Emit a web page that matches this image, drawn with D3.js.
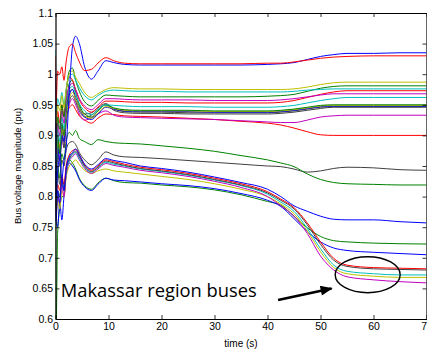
<!DOCTYPE html>
<html>
<head>
<meta charset="utf-8">
<script src="https://cdn.jsdelivr.net/npm/d3@7"></script>
<style>
  body { margin: 0; background: #fff; }
  svg { display: block; }
  text { font-family: "Liberation Sans", Arial, sans-serif; }
</style>
</head>
<body>
<div id="canvas"></div>
<script>
// sample times (s)
const time = [0, 0.1, 0.4, 0.8, 1.2, 1.6, 2,
  2.6, 3.2, 3.8, 4.5, 5.5, 6.8, 8, 9.5, 11,
  13, 16, 20, 25, 30, 35, 40,
  42.5, 45, 47.5, 50, 52.5, 55, 60, 65, 70];

const xTicks = [0, 10, 20, 30, 40, 50, 60, 70];
const yTicks = [0.6, 0.65, 0.7, 0.75, 0.8, 0.85, 0.9, 0.95, 1, 1.05, 1.1];

// bus voltages (pu)
const blue1 = [1.00, 0.80, 0.84, 0.86, 0.83, 0.86, 0.88,
  0.97, 1.045, 1.062, 1.05, 1.012, 0.992, 1.005, 1.022, 1.019,
  1.016, 1.015, 1.015, 1.015, 1.015, 1.015, 1.016,
  1.017, 1.019, 1.024, 1.029, 1.032, 1.034, 1.034, 1.035, 1.035];
const red1 = [1.03, 0.95, 1.005, 1.0, 1.012, 0.99, 1.02,
  1.045, 1.049, 1.035, 1.02, 1.006, 1.008, 1.018, 1.027, 1.022,
  1.018, 1.017, 1.017, 1.017, 1.017, 1.017, 1.018,
  1.018, 1.02, 1.023, 1.026, 1.028, 1.029, 1.03, 1.03, 1.03];
const oliveA = [0.97, 0.92, 0.95, 0.94, 0.965, 0.945, 0.975,
  1.0, 1.005, 0.995, 0.985, 0.97, 0.962, 0.968, 0.975, 0.978,
  0.977, 0.976, 0.976, 0.975, 0.975, 0.975, 0.975,
  0.975, 0.976, 0.979, 0.983, 0.986, 0.987, 0.987, 0.987, 0.987];
const cyanA = [1.04, 0.93, 0.96, 0.95, 0.97, 0.95, 0.975,
  0.995, 1.0, 0.99, 0.978, 0.965, 0.958, 0.965, 0.972, 0.974,
  0.973, 0.972, 0.972, 0.971, 0.971, 0.971, 0.971,
  0.971, 0.972, 0.974, 0.975, 0.976, 0.976, 0.976, 0.976, 0.976];
const greenA = [0.96, 0.88, 0.93, 0.91, 0.95, 0.93, 0.97,
  1.005, 1.01, 0.99, 0.972, 0.955, 0.948, 0.957, 0.966, 0.965,
  0.964, 0.963, 0.963, 0.963, 0.963, 0.963, 0.964,
  0.965, 0.967, 0.972, 0.977, 0.98, 0.981, 0.981, 0.981, 0.981];
const magentaA = [0.95, 0.87, 0.92, 0.9, 0.94, 0.92, 0.955,
  0.98, 0.985, 0.975, 0.96, 0.948, 0.942, 0.95, 0.96, 0.96,
  0.959, 0.958, 0.958, 0.958, 0.957, 0.957, 0.957,
  0.958, 0.96, 0.963, 0.966, 0.968, 0.968, 0.968, 0.968, 0.968];
const redB = [0.99, 0.9, 0.94, 0.92, 0.95, 0.93, 0.97,
  0.995, 0.99, 0.975, 0.958, 0.945, 0.938, 0.946, 0.956, 0.956,
  0.955, 0.954, 0.954, 0.953, 0.953, 0.953, 0.953,
  0.954, 0.957, 0.962, 0.967, 0.971, 0.973, 0.973, 0.973, 0.973];
const cyanB = [0.96, 0.86, 0.91, 0.89, 0.93, 0.91, 0.95,
  0.975, 0.98, 0.968, 0.952, 0.94, 0.934, 0.942, 0.95, 0.949,
  0.948, 0.947, 0.947, 0.947, 0.946, 0.946, 0.946,
  0.947, 0.949, 0.953, 0.957, 0.96, 0.962, 0.962, 0.962, 0.962];
const greenB = [0.94, 0.84, 0.9, 0.87, 0.92, 0.9, 0.94,
  0.985, 0.99, 0.97, 0.95, 0.935, 0.93, 0.94, 0.95, 0.945,
  0.942, 0.941, 0.941, 0.941, 0.94, 0.94, 0.94,
  0.941, 0.943, 0.946, 0.949, 0.95, 0.95, 0.95, 0.95, 0.95];
const oliveB = [0.93, 0.85, 0.89, 0.88, 0.91, 0.9, 0.93,
  0.96, 0.97, 0.96, 0.945, 0.932, 0.928, 0.937, 0.947, 0.944,
  0.941, 0.94, 0.94, 0.94, 0.939, 0.939, 0.939,
  0.94, 0.942, 0.945, 0.948, 0.949, 0.949, 0.949, 0.949, 0.949];
const blueB = [0.95, 0.83, 0.88, 0.86, 0.9, 0.89, 0.93,
  0.965, 0.975, 0.962, 0.945, 0.93, 0.926, 0.935, 0.946, 0.943,
  0.94, 0.939, 0.939, 0.939, 0.938, 0.938, 0.938,
  0.939, 0.941, 0.944, 0.947, 0.948, 0.948, 0.948, 0.948, 0.948];
const blackA = [0.94, 0.84, 0.89, 0.87, 0.91, 0.89, 0.935,
  0.97, 0.975, 0.96, 0.945, 0.935, 0.937, 0.945, 0.952, 0.943,
  0.939, 0.938, 0.938, 0.937, 0.937, 0.937, 0.937,
  0.938, 0.94, 0.943, 0.946, 0.947, 0.947, 0.947, 0.947, 0.947];
const blackB = [0.92, 0.82, 0.87, 0.85, 0.9, 0.88, 0.92,
  0.955, 0.965, 0.955, 0.94, 0.93, 0.933, 0.942, 0.95, 0.941,
  0.937, 0.936, 0.936, 0.935, 0.935, 0.935, 0.935,
  0.936, 0.938, 0.941, 0.944, 0.946, 0.946, 0.946, 0.946, 0.946];
const magentaB = [0.93, 0.83, 0.88, 0.86, 0.9, 0.88, 0.92,
  0.95, 0.96, 0.95, 0.935, 0.925, 0.929, 0.935, 0.94, 0.933,
  0.93, 0.929, 0.928, 0.927, 0.926, 0.924, 0.922,
  0.921, 0.921, 0.925, 0.93, 0.932, 0.933, 0.933, 0.933, 0.933];
const redC = [0.95, 0.85, 0.9, 0.88, 0.92, 0.9, 0.93,
  0.945, 0.95, 0.942, 0.932, 0.925, 0.92, 0.928, 0.935, 0.934,
  0.932, 0.931, 0.93, 0.928, 0.926, 0.923, 0.92,
  0.917, 0.912, 0.906, 0.901, 0.9, 0.9, 0.9, 0.9, 0.9];
const greenC = [0.9, 0.8, 0.85, 0.83, 0.87, 0.86, 0.89,
  0.905, 0.9, 0.908, 0.895, 0.89, 0.885, 0.893, 0.89, 0.888,
  0.887, 0.886, 0.883, 0.879, 0.874, 0.867, 0.86,
  0.855, 0.849, 0.837, 0.828, 0.823, 0.821, 0.82, 0.819, 0.819];
const blackC = [0.88, 0.78, 0.84, 0.82, 0.86, 0.85, 0.875,
  0.888, 0.89, 0.885, 0.872, 0.86, 0.852, 0.86, 0.873, 0.868,
  0.865, 0.864, 0.862, 0.859, 0.856, 0.853, 0.85,
  0.849, 0.845, 0.84, 0.842, 0.846, 0.848, 0.847, 0.844, 0.843];
const blueD = [0.86, 0.76, 0.81, 0.79, 0.83, 0.81, 0.845,
  0.865, 0.872, 0.878, 0.868, 0.853, 0.845, 0.852, 0.862, 0.859,
  0.856, 0.85, 0.846, 0.84, 0.832, 0.823, 0.812,
  0.80, 0.785, 0.776, 0.768, 0.763, 0.762, 0.762, 0.759, 0.757];
const redD = [0.84, 0.79, 0.82, 0.81, 0.835, 0.82, 0.85,
  0.868, 0.875, 0.877, 0.868, 0.852, 0.843, 0.85, 0.86, 0.857,
  0.853, 0.848, 0.844, 0.838, 0.83, 0.821, 0.808,
  0.796, 0.782, 0.757, 0.726, 0.699, 0.688, 0.684, 0.683, 0.682];
const blackD = [0.85, 0.77, 0.81, 0.8, 0.83, 0.81, 0.845,
  0.862, 0.87, 0.874, 0.865, 0.85, 0.841, 0.848, 0.858, 0.855,
  0.851, 0.846, 0.842, 0.836, 0.828, 0.819, 0.806,
  0.794, 0.78, 0.754, 0.722, 0.696, 0.686, 0.682, 0.681, 0.68];
const cyanD = [0.85, 0.78, 0.81, 0.8, 0.83, 0.81, 0.84,
  0.86, 0.868, 0.872, 0.862, 0.848, 0.84, 0.847, 0.856, 0.853,
  0.85, 0.845, 0.841, 0.835, 0.827, 0.818, 0.804,
  0.791, 0.776, 0.748, 0.715, 0.688, 0.678, 0.674, 0.672, 0.672];
const magentaD = [0.84, 0.77, 0.8, 0.79, 0.82, 0.8, 0.835,
  0.858, 0.865, 0.87, 0.86, 0.846, 0.838, 0.845, 0.854, 0.851,
  0.848, 0.843, 0.839, 0.833, 0.825, 0.815, 0.80,
  0.785, 0.768, 0.74, 0.703, 0.68, 0.669, 0.664, 0.661, 0.659];
const oliveD = [0.83, 0.76, 0.8, 0.78, 0.81, 0.8, 0.83,
  0.85, 0.855, 0.86, 0.852, 0.843, 0.838, 0.842, 0.845, 0.842,
  0.84, 0.837, 0.833, 0.828, 0.821, 0.812, 0.80,
  0.788, 0.772, 0.744, 0.71, 0.684, 0.674, 0.67, 0.668, 0.668];
const greenD = [0.82, 0.58, 0.74, 0.78, 0.8, 0.8, 0.84,
  0.86, 0.855, 0.845, 0.83, 0.818, 0.812, 0.822, 0.83, 0.826,
  0.823, 0.822, 0.819, 0.816, 0.811, 0.803, 0.792,
  0.786, 0.768, 0.749, 0.735, 0.728, 0.726, 0.724, 0.723, 0.7225];
const blueE = [0.83, 0.76, 0.751, 0.79, 0.762, 0.8, 0.835,
  0.855, 0.85, 0.842, 0.828, 0.816, 0.81, 0.82, 0.83, 0.827,
  0.826, 0.824, 0.821, 0.818, 0.813, 0.805, 0.794,
  0.784, 0.764, 0.743, 0.726, 0.716, 0.712, 0.709, 0.707, 0.705];

// annotation anchors in data units
const noteText = "Makassar region buses";
const notePos = [1.0, 0.6364];
const arrowFrom = [42.0, 0.631];
const arrowTo = [52.1, 0.650];
const ringCenter = [58.9, 0.6724];
const ringRadius = [6.13, 0.0294];

// MATLAB line colours
const col = {
  b: "#0000ff", g: "#008000", r: "#ff0000", c: "#00bfbf",
  m: "#bf00bf", y: "#bfbf00", k: "#404040"
};

const series = [
  [greenD, col.g], [blueE, col.b], [oliveD, col.y], [magentaD, col.m],
  [cyanD, col.c], [blackD, col.k], [redD, col.r], [blueD, col.b],
  [blackC, col.k], [greenC, col.g], [redC, col.r], [magentaB, col.m],
  [blackB, col.k], [blackA, col.k], [blueB, col.b], [oliveB, col.y],
  [greenB, col.g], [cyanB, col.c], [redB, col.r], [magentaA, col.m],
  [greenA, col.g], [cyanA, col.c], [oliveA, col.y],
  [blue1, col.b], [red1, col.r]
];

const width = 427, height = 354;
const mLeft = 55.5, mRight = 426.5, mTop = 13, mBottom = 319;

const x = d3.scaleLinear().domain([0, 70]).range([mLeft, mRight]);
const y = d3.scaleLinear().domain([0.6, 1.1]).range([mBottom, mTop]);

const svg = d3.select('#canvas')
  .append('svg')
  .attr('width', width)
  .attr('height', height);

const defs = svg.append('defs');
defs.append('clipPath')
  .attr('id', 'plotClip')
  .append('rect')
  .attr('x', mLeft).attr('y', mTop)
  .attr('width', mRight - mLeft).attr('height', mBottom - mTop);

// lines
const line = d3.line()
  .x((d, i) => x(time[i]))
  .y(d => y(d))
  .curve(d3.curveMonotoneX);

svg.append('g')
  .attr('clip-path', 'url(#plotClip)')
  .selectAll('path')
  .data(series)
  .enter()
  .append('path')
  .attr('d', d => line(d[0]))
  .attr('fill', 'none')
  .attr('stroke', d => d[1])
  .attr('stroke-width', 1);

// axes, ticks inside the box like matlab
const fmt = d => String(+d.toFixed(2));

const axL = svg.append('g')
  .attr('transform', `translate(${mLeft},0)`)
  .call(d3.axisLeft(y).tickValues(yTicks).tickFormat(fmt)
    .tickSizeInner(-4).tickSizeOuter(0).tickPadding(2.5));
const axR = svg.append('g')
  .attr('transform', `translate(${mRight},0)`)
  .call(d3.axisRight(y).tickValues(yTicks).tickFormat('')
    .tickSizeInner(-4).tickSizeOuter(0));
const axB = svg.append('g')
  .attr('transform', `translate(0,${mBottom})`)
  .call(d3.axisBottom(x).tickValues(xTicks).tickFormat(d3.format('d'))
    .tickSizeInner(-4).tickSizeOuter(0).tickPadding(4));
const axT = svg.append('g')
  .attr('transform', `translate(0,${mTop})`)
  .call(d3.axisTop(x).tickValues(xTicks).tickFormat('')
    .tickSizeInner(-4).tickSizeOuter(0));

[axL, axR, axB, axT].forEach(a => {
  a.select('.domain').attr('stroke', '#000').attr('stroke-width', 1.2);
  a.selectAll('.tick line').attr('stroke', '#000').attr('stroke-width', 0.8);
  a.selectAll('text')
    .attr('fill', '#000')
    .style('font-family', '"Liberation Sans", Arial, sans-serif')
    .style('font-size', '10.5px');
});

// axis labels
svg.append('text')
  .attr('x', (mLeft + mRight) / 2)
  .attr('y', 347)
  .attr('text-anchor', 'middle')
  .style('font-size', '10px')
  .text('time (s)');

svg.append('text')
  .attr('transform', `translate(21,${(mTop + mBottom) / 2}) rotate(-90)`)
  .attr('text-anchor', 'middle')
  .style('font-size', '9.5px')
  .text('Bus voltage magnitude (pu)');

// annotation
defs.append('marker')
  .attr('id', 'head')
  .attr('markerUnits', 'userSpaceOnUse')
  .attr('viewBox', '0 0 12 10')
  .attr('refX', 11).attr('refY', 5)
  .attr('markerWidth', 13).attr('markerHeight', 10)
  .attr('orient', 'auto')
  .append('path')
  .attr('d', 'M0,0 L12,5 L0,10 Z')
  .attr('fill', '#000');

svg.append('line')
  .attr('x1', x(arrowFrom[0])).attr('y1', y(arrowFrom[1]))
  .attr('x2', x(arrowTo[0])).attr('y2', y(arrowTo[1]))
  .attr('stroke', '#000')
  .attr('stroke-width', 2.6)
  .attr('marker-end', 'url(#head)');

svg.append('ellipse')
  .attr('cx', x(ringCenter[0])).attr('cy', y(ringCenter[1]))
  .attr('rx', x(ringRadius[0]) - x(0))
  .attr('ry', y(0.6) - y(0.6 + ringRadius[1]))
  .attr('fill', 'none')
  .attr('stroke', '#000')
  .attr('stroke-width', 1.4);

svg.append('text')
  .attr('x', x(notePos[0]))
  .attr('y', y(notePos[1]))
  .attr('textLength', 196)
  .attr('lengthAdjust', 'spacingAndGlyphs')
  .style('font-family', '"Open Sans", "Noto Sans", sans-serif')
  .style('font-size', '18.5px')
  .text(noteText);
</script>
</body>
</html>
